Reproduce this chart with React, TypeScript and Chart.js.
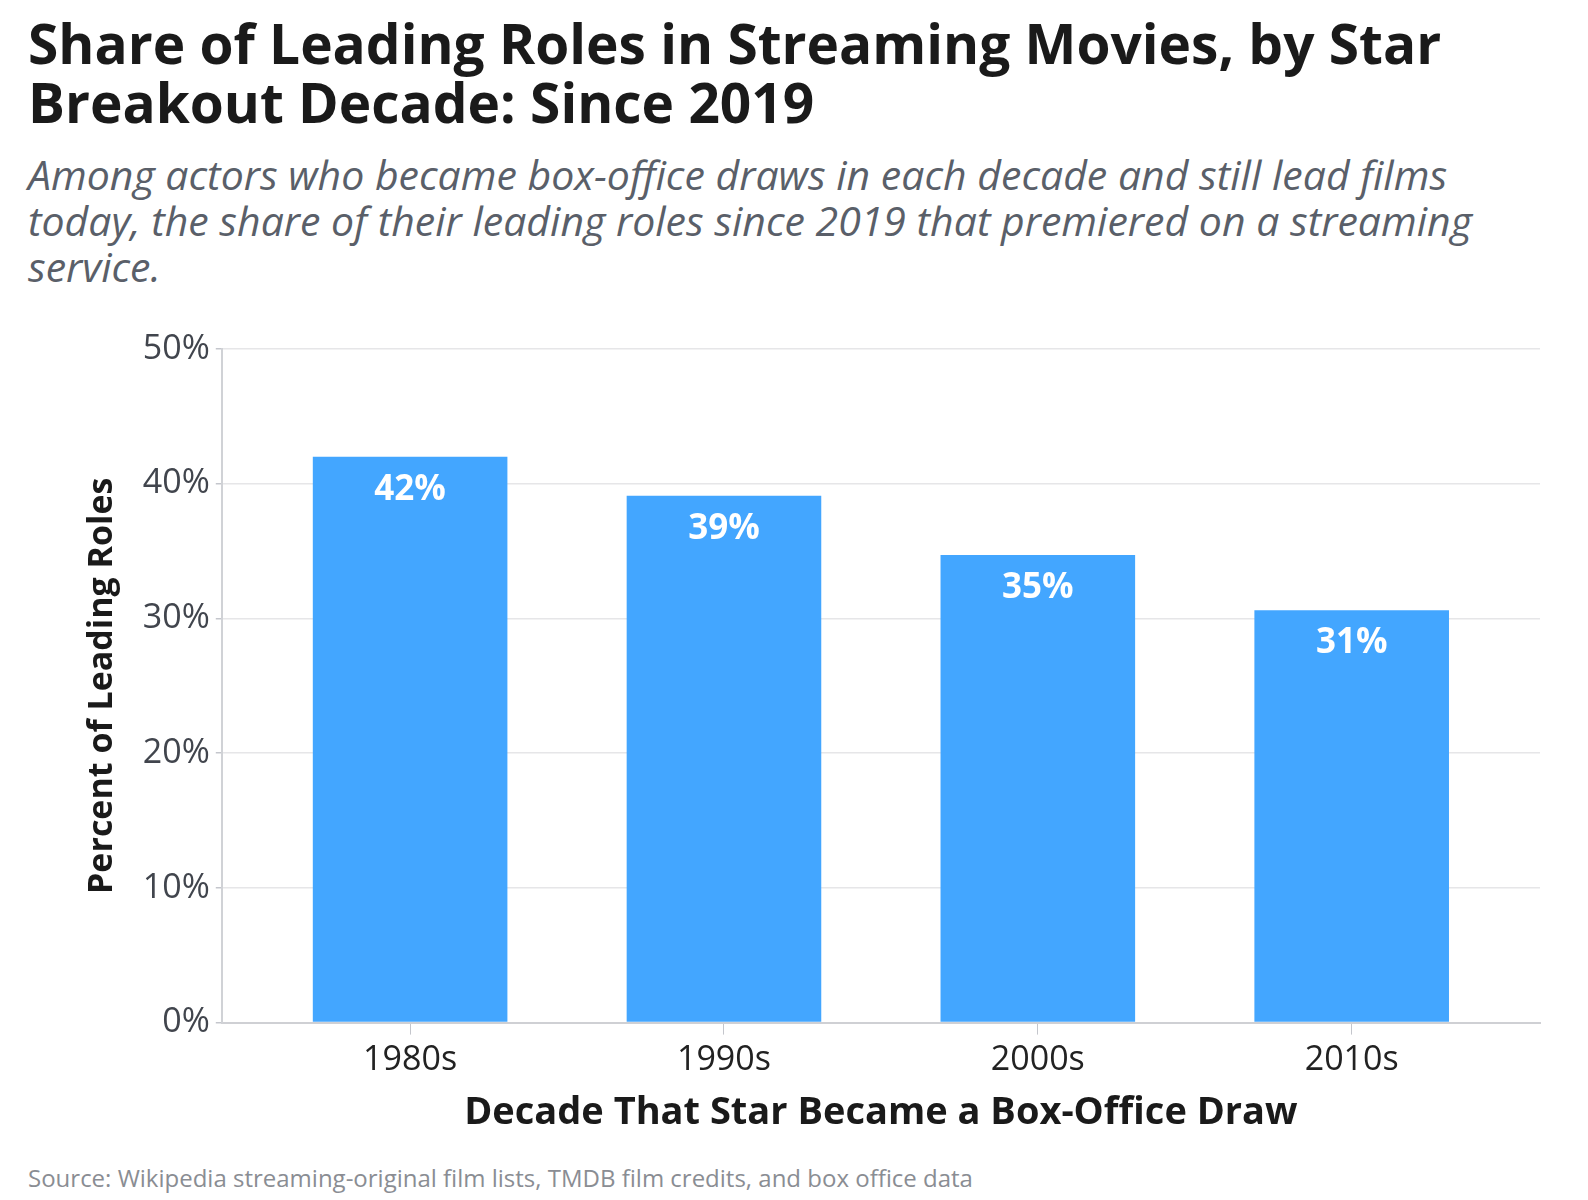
import { useEffect, useRef } from 'react';
import { Chart, registerables } from 'chart.js';
import type { Plugin } from 'chart.js';

Chart.register(...registerables);

const decades = ['1980s', '1990s', '2000s', '2010s'];
const streamingShare = [42.0, 39.1, 34.7, 30.6];
const shareLabels = ['42%', '39%', '35%', '31%'];

const FONT = '"Open Sans", "DejaVu Sans", sans-serif';

// white value labels just inside the top of each bar
const barLabels: Plugin<'bar'> = {
  id: 'barLabels',
  afterDatasetsDraw(chart) {
    const { ctx } = chart;
    const meta = chart.getDatasetMeta(0);
    ctx.save();
    ctx.font = `bold 35px ${FONT}`;
    ctx.fillStyle = '#ffffff';
    ctx.textAlign = 'center';
    ctx.textBaseline = 'middle';
    meta.data.forEach((bar, i) => {
      ctx.fillText(shareLabels[i], bar.x, bar.y + 33);
    });
    ctx.restore();
  },
};

const ShareChart = () => {
  const canvasRef = useRef<HTMLCanvasElement>(null);
  const chartRef = useRef<Chart | null>(null);

  useEffect(() => {
    if (!canvasRef.current) return;
    chartRef.current = new Chart(canvasRef.current, {
      type: 'bar',
      data: {
        datasets: [
          {
            data: streamingShare.map((v, i) => ({ x: i, y: v })),
            backgroundColor: '#43a6ff',
            barPercentage: 0.62,
            categoryPercentage: 1,
          },
        ],
      },
      options: {
        animation: false,
        responsive: true,
        maintainAspectRatio: false,
        layout: { padding: { left: 54, right: 20, top: 60, bottom: 0 } },
        plugins: {
          legend: { display: false },
          tooltip: { enabled: false },
        },
        scales: {
          x: {
            type: 'linear',
            offset: false,
            min: -0.6,
            max: decades.length - 0.4,
            afterBuildTicks: (axis) => {
              axis.ticks = decades.map((_, i) => ({ value: i }));
            },
            grid: {
              offset: false,
              drawOnChartArea: false,
              drawTicks: true,
              tickLength: 12,
              tickColor: '#c4c6cc',
            },
            border: { color: '#cfd0d4', width: 2 },
            ticks: {
              color: '#222',
              font: { family: FONT, size: 34 },
              padding: 5,
              callback: (v) => decades[Number(v)] ?? '',
            },
            title: {
              display: true,
              text: 'Decade That Star Became a Box-Office Draw',
              color: '#1a1a1a',
              font: { family: FONT, size: 38, weight: 'bold' },
              padding: { top: 5, bottom: 0 },
            },
          },
          y: {
            min: 0,
            max: 50,
            ticks: {
              stepSize: 10,
              color: '#41454d',
              font: { family: FONT, size: 34 },
              padding: 6,
              callback: (v) => `${v}%`,
            },
            grid: {
              color: '#e6e6e8',
              lineWidth: 1.5,
              tickLength: 6,
              tickColor: '#c4c6cc',
            },
            border: { color: '#d0d2d6', width: 2 },
            title: {
              display: true,
              text: 'Percent of Leading Roles',
              color: '#1a1a1a',
              font: { family: FONT, size: 34, weight: 'bold' },
              padding: { top: 0, bottom: 14 },
            },
          },
        },
      },
      plugins: [barLabels],
    });
    return () => {
      chartRef.current?.destroy();
      chartRef.current = null;
    };
  }, []);

  return (
    <div style={{ position: 'relative', height: 847 }}>
      <canvas ref={canvasRef} />
    </div>
  );
};

export default function App() {
  return (
    <div style={{ fontFamily: FONT, padding: '5px 20px 0 20px', background: '#fff' }}>
      <h1
        style={{
          margin: 0,
          fontSize: 55,
          lineHeight: '59px',
          fontWeight: 700,
          color: '#1a1a1a',
        }}
      >
        Share of Leading Roles in Streaming Movies, by Star Breakout Decade: Since 2019
      </h1>
      <p
        style={{
          margin: '20px 0 0 0',
          maxWidth: 1490,
          fontSize: 41,
          lineHeight: '46px',
          fontStyle: 'italic',
          color: '#5a5f69',
        }}
      >
        Among actors who became box-office draws in each decade and still lead films today, the
        share of their leading roles since 2019 that premiered on a streaming service.
      </p>
      <ShareChart />
      <p style={{ margin: '25px 0 0 0', fontSize: 24, color: '#8a8d93' }}>
        Source: Wikipedia streaming-original film lists, TMDB film credits, and box office data
      </p>
    </div>
  );
}
